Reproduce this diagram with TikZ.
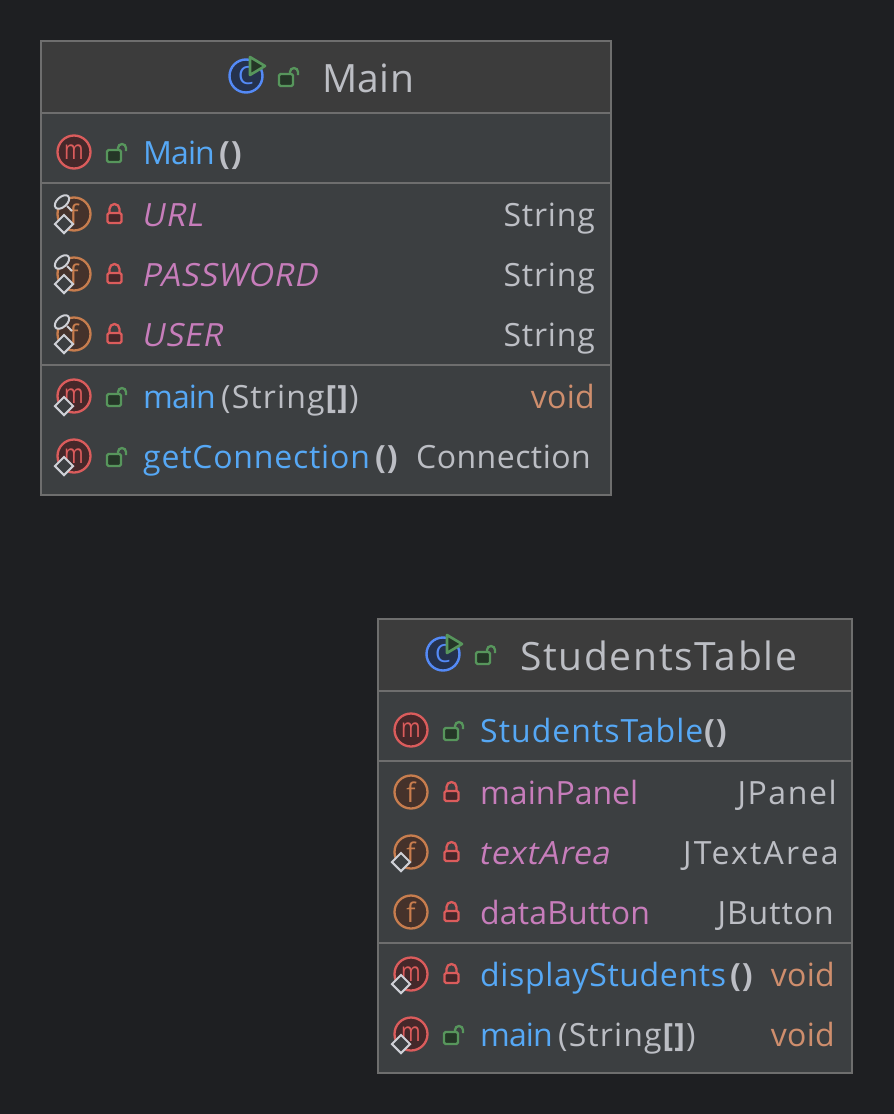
\documentclass[tikz,border=0pt]{standalone}
\usepackage{graphicx}
\usepackage{fontspec}
\setmainfont[LetterSpace=2.5]{Open Sans}
\newfontfamily\slantfont[FakeSlant=0.2,LetterSpace=2.5]{Open Sans}
\newfontfamily\badgefont{Open Sans}
\newcommand{\track}[2]{{\addfontfeature{LetterSpace=#1}#2}}
\newcommand{\badgem}{\scalebox{0.78}[1]{m}}
\usetikzlibrary{shapes.geometric}
\definecolor{pagebg}{HTML}{1E1F22}
\definecolor{headbg}{HTML}{3C3C3C}
\definecolor{bodybg}{HTML}{3C3F41}
\definecolor{rulecol}{HTML}{6E6E6E}
\definecolor{txtgray}{HTML}{BCBEC4}
\definecolor{txtblue}{HTML}{56A8F5}
\definecolor{txtpurple}{HTML}{C77DBB}
\definecolor{txtorange}{HTML}{CF8E6D}
\definecolor{iconred}{HTML}{DB5C5C}
\definecolor{iconredbg}{HTML}{45282A}
\definecolor{iconorange}{HTML}{C77D4E}
\definecolor{iconorangebg}{HTML}{45322B}
\definecolor{iconblue}{HTML}{548AF7}
\definecolor{iconbluebg}{HTML}{25324D}
\definecolor{icongreen}{HTML}{57965C}
\definecolor{icongreenbg}{HTML}{253627}
\definecolor{marksilver}{HTML}{CED0D6}
\tikzset{
    x=1pt, y=-1pt,
    label/.style={inner sep=0pt, anchor=base west, font=\fontsize{32}{32}\selectfont},
    title/.style={label, text=txtgray, font=\fontsize{39}{39}\selectfont},
    method/.style={label, text=txtblue},
    field/.style={label, text=txtpurple},
    fielditalic/.style={field, font=\fontsize{32}{32}\selectfont\slantfont},
    args/.style={label, text=txtgray},
    type/.style={label, anchor=base east, text=txtgray},
    typeorange/.style={type, text=txtorange},
    mbadge/.style={circle, draw=iconred, fill=iconredbg, line width=2.3pt, minimum size=33pt, inner sep=0pt, text=iconred, font=\fontsize{27}{27}\selectfont\badgefont},
    fbadge/.style={circle, draw=iconorange, fill=iconorangebg, line width=2.3pt, minimum size=33pt, inner sep=0pt, text=iconorange, font=\fontsize{27}{27}\selectfont\badgefont},
    cbadge/.style={circle, draw=iconblue, fill=iconbluebg, line width=2.4pt, minimum size=33pt, inner sep=0pt, text=iconblue, font=\fontsize{25}{25}\selectfont\badgefont},
    finalmark/.style={diamond, draw=marksilver, fill=bodybg, line width=2pt, minimum size=19pt, inner sep=0pt},
    staticmark/.style={ellipse, draw=marksilver, fill=bodybg, line width=2pt, minimum width=17pt, minimum height=10pt, inner sep=0pt, rotate=42},
    statictick/.pic={
        \draw[marksilver, line width=2pt] (-7,-8) -- (-2,-3);
    },
    lockopen/.pic={
        \draw[icongreen, line width=2.3pt] (2,-3) -- (2,-5) arc[start angle=180, end angle=360, radius=4] -- (10,-2);
        \draw[icongreen, fill=icongreenbg, line width=2.3pt, rounded corners=1.5pt] (-9,-3) rectangle (5,9);
    },
    lockclosed/.pic={
        \draw[iconred, line width=2.3pt] (-5,-1) -- (-5,-5) arc[start angle=180, end angle=360, radius=5] -- (5,-1);
        \draw[iconred, fill=iconredbg, line width=2.3pt, rounded corners=1.5pt] (-7,-1) rectangle (7,9);
    },
    playmark/.pic={
        \draw[icongreen, fill=icongreenbg, line width=2.6pt, line join=round] (-6,-9) -- (9,0) -- (-6,9) -- cycle;
    }
}
\begin{document}
\begin{tikzpicture}
    \fill[pagebg] (0,0) rectangle (894,1114);

    \fill[bodybg] (41,41) rectangle (611,495);
    \fill[headbg] (41,41) rectangle (611,113);
    \draw[rulecol, line width=1.5pt] (41,41) rectangle (611,495);
    \draw[rulecol, line width=1.5pt] (41,113) -- (611,113);
    \draw[rulecol, line width=1.5pt] (41,183) -- (611,183);
    \draw[rulecol, line width=1.5pt] (41,365) -- (611,365);

    \node[cbadge] (mainclass) at (246,76) {C};
    \pic at (256,66) {playmark};
    \pic at (288,77) {lockopen};
    \node[title] (maintitle) at (322,92) {\track{1}{Main}};

    \node[mbadge] (mainctoricon) at (74,152) {\badgem};
    \pic at (116,153) {lockopen};
    \node[method] (mainctor) at (143,164) {\track{-3}{Main}};
    \node[args] (mainctorargs) at (219,164) {\textbf{()}};

    \node[fbadge] (urlicon) at (74,214) {f};
    \pic at (74,214) {statictick};
    \node[staticmark] (urlstatic) at (62,202) {};
    \node[finalmark] (urlfinal) at (64,224) {};
    \pic at (114.5,214) {lockclosed};
    \node[fielditalic] (url) at (141,226) {URL};
    \node[type] (urltype) at (595,226) {String};

    \node[fbadge] (passwordicon) at (74,274) {f};
    \pic at (74,274) {statictick};
    \node[staticmark] (passwordstatic) at (62,262) {};
    \node[finalmark] (passwordfinal) at (64,284) {};
    \pic at (114.5,274) {lockclosed};
    \node[fielditalic] (password) at (141,286) {PASSWORD};
    \node[type] (passwordtype) at (595,286) {String};

    \node[fbadge] (usericon) at (74,334) {f};
    \pic at (74,334) {statictick};
    \node[staticmark] (userstatic) at (62,322) {};
    \node[finalmark] (userfinal) at (64,344) {};
    \pic at (114.5,334) {lockclosed};
    \node[fielditalic] (user) at (141,346) {USER};
    \node[type] (usertype) at (595,346) {String};

    \node[mbadge] (mainmethodicon) at (74,396) {\badgem};
    \node[finalmark] (mainmethodfinal) at (64,406) {};
    \pic at (116,397) {lockopen};
    \node[method] (mainmethod) at (143,408) {\track{-3}{main}};
    \node[args] (mainmethodargs) at (221,408) {\track{3.5}{(String\textbf{[]})}};
    \node[typeorange] (mainmethodtype) at (595,408) {\track{1}{void}};

    \node[mbadge] (connicon) at (74,456) {\badgem};
    \node[finalmark] (connfinal) at (64,466) {};
    \pic at (116,457) {lockopen};
    \node[method] (conn) at (143,468) {getConnection};
    \node[args] (connargs) at (375,468) {\textbf{()}};
    \node[type] (conntype) at (591,468) {\track{1.5}{Connection}};

    \fill[bodybg] (378,619) rectangle (852,1073);
    \fill[headbg] (378,619) rectangle (852,691);
    \draw[rulecol, line width=1.5pt] (378,619) rectangle (852,1073);
    \draw[rulecol, line width=1.5pt] (378,691) -- (852,691);
    \draw[rulecol, line width=1.5pt] (378,761) -- (852,761);
    \draw[rulecol, line width=1.5pt] (378,943) -- (852,943);

    \node[cbadge] (tableclass) at (443,654) {C};
    \pic at (453,644) {playmark};
    \pic at (485,655) {lockopen};
    \node[title] (tabletitle) at (520,670) {\track{4.3}{StudentsTable}};

    \node[mbadge] (tablectoricon) at (411,730) {\badgem};
    \pic at (453,731) {lockopen};
    \node[method] (tablector) at (480,742) {\track{3.2}{StudentsTable}};
    \node[args] (tablectorargs) at (704,742) {\textbf{()}};

    \node[fbadge] (panelicon) at (411,792) {f};
    \pic at (451.5,792) {lockclosed};
    \node[field] (panel) at (480,804) {\track{0}{mainPanel}};
    \node[type] (paneltype) at (837,804) {\track{5}{JPanel}};

    \node[fbadge] (areaicon) at (411,852) {f};
    \node[finalmark] (areafinal) at (401,862) {};
    \pic at (451.5,852) {lockclosed};
    \node[fielditalic] (area) at (478,864) {textArea};
    \node[type] (areatype) at (839,864) {\track{7}{JTextArea}};

    \node[fbadge] (buttonicon) at (411,912) {f};
    \pic at (451.5,912) {lockclosed};
    \node[field] (button) at (480,924) {\track{0.5}{dataButton}};
    \node[type] (buttontype) at (834,924) {\track{3}{JButton}};

    \node[mbadge] (displayicon) at (411,974) {\badgem};
    \node[finalmark] (displayfinal) at (401,984) {};
    \pic at (451.5,974) {lockclosed};
    \node[method] (display) at (480,986) {\track{2}{displayStudents}};
    \node[args] (displayargs) at (730,986) {\textbf{()}};
    \node[typeorange] (displaytype) at (835,986) {\track{1}{void}};

    \node[mbadge] (tablemainicon) at (411,1034) {\badgem};
    \node[finalmark] (tablemainfinal) at (401,1044) {};
    \pic at (453,1035) {lockopen};
    \node[method] (tablemain) at (480,1046) {\track{-3}{main}};
    \node[args] (tablemainargs) at (558,1046) {\track{3.5}{(String\textbf{[]})}};
    \node[typeorange] (tablemaintype) at (835,1046) {\track{1}{void}};
\end{tikzpicture}
\end{document}
